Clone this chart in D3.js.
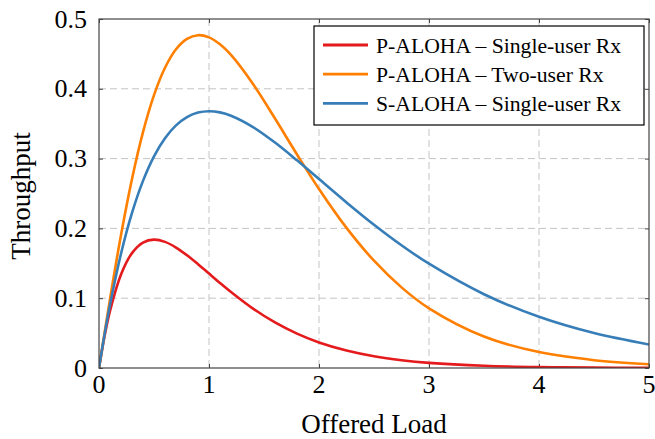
<!DOCTYPE html>
<html>
<head>
<meta charset="utf-8">
<script src="https://cdn.jsdelivr.net/npm/d3@7"></script>
<style>
  html, body { margin: 0; padding: 0; background: #fff; }
  svg { display: block; }
</style>
</head>
<body>
<svg id="chart" width="655" height="439"></svg>
<script>
// ---- data ----
const offeredLoad = [0, 0.05, 0.1, 0.2, 0.3, 0.4, 0.5, 0.6, 0.7, 0.8, 0.9, 1.0, 1.1, 1.2, 1.4, 1.6, 1.8, 2.0, 2.25, 2.5, 2.75, 3.0, 3.5, 4.0, 4.5, 5.0];
const pAlohaSingle = [0, 0.0452, 0.0819, 0.1341, 0.1646, 0.1797, 0.1839, 0.1807, 0.1726, 0.1615, 0.1488, 0.1353, 0.1219, 0.1089, 0.0851, 0.0652, 0.0492, 0.0366, 0.0250, 0.0168, 0.0112, 0.0074, 0.0032, 0.0013, 0.0006, 0.0002];
const pAlohaTwo    = [0, 0.0498, 0.0987, 0.1904, 0.2708, 0.3379, 0.3909, 0.4301, 0.4566, 0.4716, 0.4768, 0.4737, 0.4638, 0.4485, 0.4069, 0.3574, 0.3059, 0.2564, 0.2007, 0.1537, 0.1155, 0.0855, 0.0451, 0.0228, 0.0112, 0.0053];
const sAlohaSingle = [0, 0.0476, 0.0905, 0.1637, 0.2222, 0.2681, 0.3033, 0.3293, 0.3476, 0.3595, 0.3659, 0.3679, 0.3662, 0.3614, 0.3452, 0.3230, 0.2975, 0.2707, 0.2372, 0.2052, 0.1758, 0.1494, 0.1057, 0.0733, 0.0500, 0.0337];
const seriesNames  = ["P-ALOHA \u2013 Single-user Rx", "P-ALOHA \u2013 Two-user Rx", "S-ALOHA \u2013 Single-user Rx"];
const seriesColors = ["#e41a1c", "#ff7f00", "#377eb8"];
const xTicks = [0, 1, 2, 3, 4, 5];
const yTicks = [0, 0.1, 0.2, 0.3, 0.4, 0.5];
const xLabel = "Offered Load";
const yLabel = "Throughput";

// ---- layout ----
const FONT = "Liberation Serif";
const svg = d3.select("#chart");
const pL = 99, pR = 649, pT = 19, pB = 368;
const x = d3.scaleLinear().domain([0, 5]).range([pL, pR]);
const y = d3.scaleLinear().domain([0, 0.5]).range([pB, pT]);

// grid
const grid = svg.append("g");
grid.selectAll("line.vx").data(xTicks.slice(1, -1)).join("line")
  .attr("x1", d => x(d)).attr("x2", d => x(d)).attr("y1", pT).attr("y2", pB)
  .attr("stroke", "#c4c4c4").attr("stroke-width", 1).attr("stroke-dasharray", "7,4");
grid.selectAll("line.hy").data(yTicks.slice(1, -1)).join("line")
  .attr("x1", pL).attr("x2", pR).attr("y1", d => y(d)).attr("y2", d => y(d))
  .attr("stroke", "#c4c4c4").attr("stroke-width", 1).attr("stroke-dasharray", "7,4");

// axes with inward ticks, labels separately
const axB = svg.append("g").attr("transform", `translate(0,${pB})`)
  .call(d3.axisBottom(x).tickValues(xTicks).tickSize(-4).tickFormat(""));
const axT = svg.append("g").attr("transform", `translate(0,${pT})`)
  .call(d3.axisTop(x).tickValues(xTicks).tickSize(-4).tickFormat(""));
const axL = svg.append("g").attr("transform", `translate(${pL},0)`)
  .call(d3.axisLeft(y).tickValues(yTicks).tickSize(-4).tickFormat(""));
const axR = svg.append("g").attr("transform", `translate(${pR},0)`)
  .call(d3.axisRight(y).tickValues(yTicks).tickSize(-4).tickFormat(""));
[axB, axT, axL, axR].forEach(g => {
  g.selectAll("path.domain").attr("stroke", "none");
  g.selectAll(".tick line").attr("stroke", "#444").attr("stroke-width", 1);
});

// lines
const data = [pAlohaSingle, pAlohaTwo, sAlohaSingle];
const line = d3.line().x((d, i) => x(offeredLoad[i])).y(d => y(d)).curve(d3.curveCatmullRom.alpha(0.5));
svg.append("clipPath").attr("id", "clip").append("rect")
  .attr("x", pL).attr("y", pT - 2).attr("width", pR - pL).attr("height", pB - pT + 2);
svg.append("g").attr("clip-path", "url(#clip)")
  .selectAll("path").data(data).join("path")
  .attr("d", d => line(d))
  .attr("fill", "none")
  .attr("stroke", (d, i) => seriesColors[i])
  .attr("stroke-width", 2.6)
  .attr("stroke-linejoin", "round");

// frame
svg.append("rect").attr("x", pL).attr("y", pT).attr("width", pR - pL).attr("height", pB - pT)
  .attr("fill", "none").attr("stroke", "#444").attr("stroke-width", 1.2);

// tick labels
svg.append("g").selectAll("text").data(xTicks).join("text")
  .attr("font-family", FONT)
  .attr("x", d => x(d)).attr("y", pB + 25)
  .attr("text-anchor", "middle").attr("font-size", 26)
  .text(d => d3.format("")(d));
svg.append("g").selectAll("text").data(yTicks).join("text")
  .attr("font-family", FONT)
  .attr("x", pL - 12).attr("y", d => y(d) + 8.5)
  .attr("text-anchor", "end").attr("font-size", 26)
  .text(d => d === 0 ? "0" : d3.format(".1f")(d));

// axis labels
svg.append("text").attr("font-family", FONT).attr("x", (pL + pR) / 2).attr("y", 433)
  .attr("text-anchor", "middle").attr("font-size", 27).text(xLabel);
svg.append("text").attr("font-family", FONT).attr("transform", `translate(30,196) rotate(-90)`)
  .attr("text-anchor", "middle").attr("font-size", 27).text(yLabel);

// legend
const leg = svg.append("g");
leg.append("rect").attr("x", 314).attr("y", 26).attr("width", 330).attr("height", 99)
  .attr("fill", "#fff").attr("stroke", "#000").attr("stroke-width", 1.2);
const rows = leg.selectAll("g.row").data(seriesNames).join("g").attr("class", "row")
  .attr("transform", (d, i) => `translate(0,${45 + i * 29.2})`);
rows.append("line").attr("x1", 323).attr("x2", 368).attr("y1", 0).attr("y2", 0)
  .attr("stroke", (d, i) => seriesColors[i]).attr("stroke-width", 2.8);
rows.append("text").attr("font-family", FONT).attr("x", 376).attr("y", 7.5).attr("font-size", 21.7).text(d => d);
</script>
</body>
</html>
